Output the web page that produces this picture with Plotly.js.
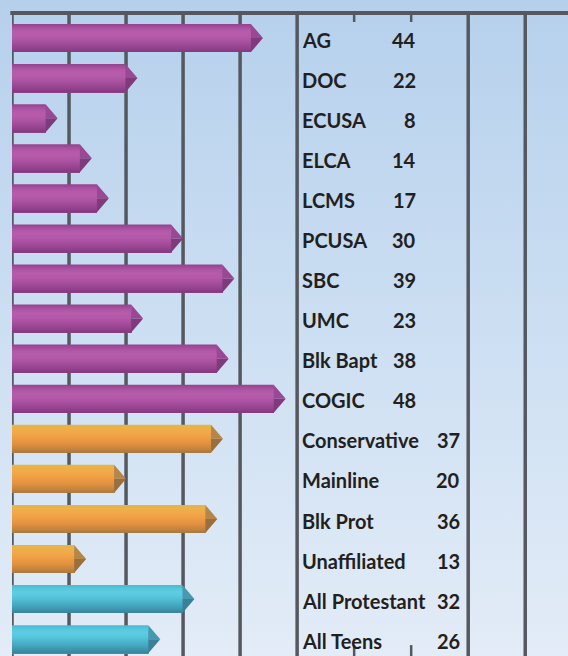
<!DOCTYPE html>
<html>
<head>
<meta charset="utf-8">
<script src="https://cdn.plot.ly/plotly-3.0.1.min.js"></script>
<style>
  html, body { margin: 0; padding: 0; }
  body { width: 568px; height: 656px; overflow: hidden;
         background: linear-gradient(to bottom, #b6d0ec 0%, #c3d9f0 30%, #d3e3f4 65%, #e3ecf7 100%); }
  #chart { width: 568px; height: 656px; }
</style>
</head>
<body>
<div id="chart"></div>
<script>
// ---- data ----
const categories = ["AG", "DOC", "ECUSA", "ELCA", "LCMS", "PCUSA", "SBC", "UMC", "Blk Bapt", "COGIC",
                    "Conservative", "Mainline", "Blk Prot", "Unaffiliated", "All Protestant", "All Teens"];
const values = [44, 22, 8, 14, 17, 30, 39, 23, 38, 48, 37, 20, 36, 13, 32, 26];
const groups = ["denomination", "denomination", "denomination", "denomination", "denomination",
                "denomination", "denomination", "denomination", "denomination", "denomination",
                "tradition", "tradition", "tradition", "tradition", "overall", "overall"];
const gridValues = [0, 10, 20, 30, 40, 50, 60, 70, 80, 90];

// ---- style ----
const paletteStops = {
  denomination: ["#95448e", "#a84f9f", "#b259a8", "#b65caa", "#b45aa8", "#ae55a4", "#a64f9d", "#9b4894", "#91428b", "#843a80"],
  tradition:    ["#e4b64a", "#edb04a", "#f1aa4a", "#f2a548", "#ef9f45", "#ea9942", "#e29240", "#d58b3e", "#c2833f", "#a97a41"],
  overall:      ["#4cbad1", "#56c6dc", "#5ccce1", "#5acbe0", "#55c4da", "#4eb9d0", "#48aec6", "#43a2bb", "#3f94ad", "#3a849c"]
};
const tipColors = {
  denomination: ["#9a4893", "#7f3a7b"],
  tradition:    ["#b58645", "#9a6f3e"],
  overall:      ["#4799b0", "#3a8198"]
};
const barWidth = 0.7;
const tipDepth = 2.1;
const nStripes = 28;
const gridColor = "#55585f";
const labelFont = { family: "Lato, 'Open Sans', sans-serif", size: 20, color: "#231f20", weight: 700 };
const nameX = 50.55;
const valueX = { denomination: 71.25, tradition: 78.95, overall: 78.95 };

function hexToRgb(h) { return [1, 3, 5].map(p => parseInt(h.substr(p, 2), 16)); }
function shade(stops, t) {
  const pos = t * (stops.length - 1);
  const a = Math.floor(pos), b = Math.min(stops.length - 1, a + 1), f = pos - a;
  const ca = hexToRgb(stops[a]), cb = hexToRgb(stops[b]);
  const c = ca.map((v, j) => Math.round(v + (cb[j] - v) * f));
  return "rgb(" + c.join(",") + ")";
}

const idx = categories.map((c, i) => i);
const traces = [];

// cylinder body built from overlapping horizontal stripes (each runs to the bar's lower edge)
for (let k = 0; k < nStripes; k++) {
  const w = barWidth / nStripes;
  const t = k / (nStripes - 1);
  traces.push({
    type: "bar",
    orientation: "h",
    y: idx,
    x: values.map(v => v - tipDepth),
    base: 0,
    width: barWidth - k * w,
    offset: -barWidth / 2 + k * w,
    marker: { color: groups.map(g => shade(paletteStops[g], t)), line: { width: 0 } },
    hoverinfo: "skip",
    showlegend: false
  });
}

// arrow tips (upper and lower halves)
["denomination", "tradition", "overall"].forEach(g => {
  [0, 1].forEach(half => {
    const xs = [], ys = [];
    values.forEach((v, i) => {
      if (groups[i] !== g) return;
      const b = v - tipDepth;
      const edge = half === 0 ? i - barWidth / 2 : i + barWidth / 2;
      xs.push(b, v, b, b, null);
      ys.push(edge, i, i, edge, null);
    });
    traces.push({
      type: "scatter", mode: "lines", x: xs, y: ys,
      fill: "toself", fillcolor: tipColors[g][half],
      line: { width: 0, color: tipColors[g][half] },
      hoverinfo: "skip", showlegend: false
    });
  });
});

// grid lines
const shapes = [];
gridValues.forEach(gv => {
  if (gv === 60 || gv === 70) {
    shapes.push({ type: "line", layer: "below", xref: "x", yref: "paper", x0: gv, x1: gv, y0: 1, y1: 0.986,
                  line: { color: gridColor, width: 2.5 } });
    shapes.push({ type: "line", layer: "below", xref: "x", yref: "paper", x0: gv, x1: gv, y0: 0, y1: 0.017,
                  line: { color: gridColor, width: 2.5 } });
  } else {
    shapes.push({ type: "line", layer: "below", xref: "x", yref: "paper", x0: gv, x1: gv, y0: 0, y1: 1.003,
                  line: { color: gridColor, width: 3.5 } });
  }
});
shapes.push({ type: "line", layer: "below", xref: "paper", yref: "paper", x0: -0.003, x1: 1.01, y0: 1, y1: 1,
              line: { color: gridColor, width: 4 } });

// labels
const annotations = [];
categories.forEach((c, i) => {
  annotations.push({ xref: "x", yref: "y", x: nameX, y: i + 0.04, text: c, showarrow: false,
                     xanchor: "left", yanchor: "middle", font: labelFont });
  annotations.push({ xref: "x", yref: "y", x: valueX[groups[i]], y: i + 0.04, text: String(values[i]), showarrow: false,
                     xanchor: "right", yanchor: "middle", font: labelFont });
});

const layout = {
  width: 568, height: 656,
  margin: { l: 12, r: 0, t: 13, b: 0, pad: 0 },
  paper_bgcolor: "rgba(0,0,0,0)",
  plot_bgcolor: "rgba(0,0,0,0)",
  barmode: "overlay",
  showlegend: false,
  xaxis: { range: [0, 97.5], showgrid: false, zeroline: false, showticklabels: false, ticks: "", fixedrange: true },
  yaxis: { range: [15.42, -0.625], showgrid: false, zeroline: false, showticklabels: false, ticks: "", fixedrange: true },
  shapes: shapes,
  annotations: annotations
};

Plotly.newPlot("chart", traces, layout, { displayModeBar: false, staticPlot: true });
</script>
</body>
</html>
